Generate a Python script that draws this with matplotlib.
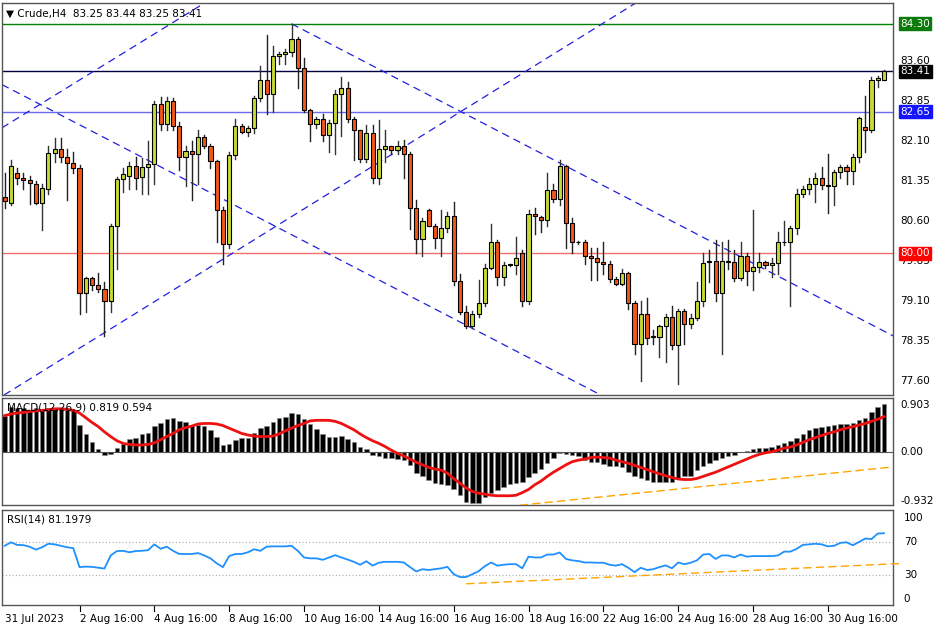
import matplotlib
matplotlib.use("Agg")
import matplotlib.pyplot as plt
import matplotlib.transforms as mtrans
import numpy as np

opens = [81.05,80.94,81.5,81.41,81.38,81.3,80.94,81.2,81.88,81.95,81.8,81.69,81.6,79.26,79.53,79.4,79.33,79.1,80.5,81.39,
 81.45,81.64,81.42,81.62,81.67,82.79,82.43,82.86,82.38,81.81,81.92,81.86,82.17,82.0,81.72,80.8,80.17,81.84,82.38,82.28,
 82.34,82.9,83.25,82.99,83.69,83.73,83.77,84.01,83.47,82.68,82.42,82.52,82.22,82.44,82.98,83.1,82.51,82.3,81.76,82.26,
 81.4,81.95,82.0,81.94,82.0,81.86,80.84,80.26,80.8,80.5,80.28,80.48,80.7,79.47,78.9,78.63,78.85,79.07,79.73,80.2,
 79.56,79.78,79.78,80.0,79.1,80.74,80.68,80.62,81.19,81.02,81.63,80.57,80.2,80.2,79.94,79.9,79.84,79.8,79.52,79.43,
 79.62,79.07,78.3,78.85,78.44,78.42,78.63,78.8,78.28,78.91,78.68,78.79,79.1,79.85,79.85,79.26,79.85,79.83,79.54,79.95,
 79.66,79.74,79.83,79.78,79.82,80.2,80.2,80.47,81.1,81.2,81.3,81.4,81.28,81.25,81.53,81.62,81.54,81.8,82.36,82.3,
 83.25,83.25]
highs = [81.5,81.74,81.6,81.5,81.45,81.35,81.3,82.0,82.15,82.15,81.95,81.9,81.65,79.55,79.55,79.62,79.45,80.55,81.42,81.6,
 81.7,81.8,81.78,82.1,82.85,82.92,82.92,82.9,82.45,82.0,82.1,82.3,82.22,82.05,81.75,80.87,81.9,82.52,82.42,82.38,
 82.95,83.5,84.09,83.88,83.78,83.82,84.3,84.05,83.65,82.7,82.55,82.6,82.5,83.05,83.3,83.2,82.55,82.3,82.4,82.4,
 82.5,82.3,82.0,82.1,82.12,81.9,81.0,80.65,80.83,80.55,80.8,80.78,80.95,79.6,79.0,78.92,79.5,79.8,80.55,80.25,
 79.83,79.8,80.3,80.05,80.8,80.85,80.7,81.5,81.3,81.75,81.65,80.65,80.22,80.25,80.1,80.1,80.2,79.85,79.55,79.7,
 79.65,79.1,79.1,79.15,78.55,78.65,78.85,79.0,78.95,78.95,78.85,79.45,80.0,80.05,80.25,80.2,80.25,80.05,80.2,80.0,
 80.8,80.0,79.85,79.9,80.4,80.6,80.5,81.2,81.25,81.4,81.5,81.62,81.85,81.55,81.65,81.65,81.85,82.55,82.95,83.3,
 83.32,83.44]
lows = [80.85,80.9,81.3,81.2,80.93,80.93,80.44,81.1,81.7,81.7,81.0,81.5,78.86,78.9,79.3,79.28,78.44,78.9,79.7,81.15,
 81.2,81.2,81.1,81.1,81.3,82.3,82.3,82.3,81.55,81.25,81.0,81.3,81.97,81.6,80.2,79.8,80.1,81.77,82.25,82.2,
 82.25,82.85,82.6,82.65,83.55,83.55,83.7,83.1,82.65,82.1,82.35,82.1,81.9,81.85,82.2,82.45,81.75,81.7,81.7,81.32,
 81.3,81.7,81.85,81.85,81.4,80.45,80.0,79.95,80.5,80.1,79.95,80.4,79.4,78.85,78.6,78.6,78.8,79.0,79.7,79.4,
 79.4,79.76,79.6,79.0,79.05,80.35,80.4,80.5,80.95,80.9,80.1,80.0,80.18,79.8,79.5,79.5,79.6,79.45,79.4,79.4,
 78.95,78.1,77.6,78.3,78.3,78.05,77.95,78.2,77.55,78.3,78.6,78.75,79.0,79.45,79.1,78.1,79.7,79.48,79.5,79.4,
 79.3,79.65,79.72,79.55,79.6,80.15,79.0,80.35,81.05,81.1,80.95,81.2,80.75,80.9,81.4,81.3,81.3,81.7,81.9,82.28,
 83.12,83.25]
closes = [80.97,81.64,81.41,81.38,81.31,80.94,81.22,81.88,81.95,81.8,81.69,81.6,79.26,79.53,79.4,79.33,79.1,80.5,81.39,81.49,
 81.64,81.41,81.62,81.67,82.79,82.43,82.86,82.38,81.81,81.92,81.86,82.17,82.0,81.72,80.8,80.17,81.84,82.38,82.28,82.34,
 82.9,83.25,82.99,83.69,83.73,83.77,84.01,83.47,82.68,82.42,82.52,82.22,82.44,82.98,83.1,82.51,82.3,81.76,82.26,81.4,
 81.95,82.0,81.94,82.0,81.86,80.84,80.26,80.6,80.5,80.28,80.48,80.7,79.47,78.9,78.63,78.85,79.07,79.73,80.2,79.56,
 79.78,79.78,79.9,79.1,80.74,80.7,80.62,81.19,81.02,81.63,80.57,80.2,80.2,79.94,79.9,79.84,79.8,79.52,79.43,79.62,
 79.07,78.3,78.85,78.4,78.42,78.63,78.8,78.28,78.91,78.68,78.79,79.1,79.82,79.83,79.26,79.85,79.83,79.54,79.95,79.66,
 79.74,79.83,79.78,79.82,80.2,80.2,80.47,81.1,81.2,81.3,81.4,81.28,81.25,81.53,81.62,81.54,81.8,82.54,82.3,83.25,
 83.29,83.41]

macd_hist = [0.70,0.87,0.85,0.84,0.81,0.84,0.83,0.84,0.85,0.84,0.83,0.81,0.52,0.34,0.19,0.06,-0.06,-0.04,0.08,0.15,
 0.25,0.28,0.34,0.36,0.50,0.55,0.64,0.65,0.60,0.57,0.52,0.52,0.51,0.43,0.30,0.14,0.15,0.24,0.27,0.28,
 0.36,0.46,0.50,0.57,0.65,0.68,0.75,0.73,0.63,0.54,0.45,0.35,0.29,0.29,0.31,0.25,0.19,0.11,0.06,-0.05,
 -0.08,-0.10,-0.11,-0.13,-0.15,-0.25,-0.40,-0.46,-0.53,-0.59,-0.61,-0.62,-0.70,-0.82,-0.95,-0.97,-0.97,-0.85,-0.78,-0.72,
 -0.66,-0.61,-0.59,-0.57,-0.48,-0.40,-0.31,-0.21,-0.11,-0.02,-0.03,-0.06,-0.08,-0.15,-0.18,-0.19,-0.23,-0.26,-0.26,-0.29,
 -0.38,-0.45,-0.50,-0.53,-0.56,-0.57,-0.57,-0.57,-0.50,-0.46,-0.45,-0.34,-0.27,-0.21,-0.15,-0.11,-0.08,-0.05,0.0,0.03,
 0.06,0.08,0.09,0.10,0.14,0.17,0.22,0.28,0.34,0.43,0.47,0.49,0.50,0.52,0.54,0.54,0.55,0.62,0.66,0.76,
 0.86,0.92]
macd_signal = [0.70,0.73,0.75,0.76,0.78,0.79,0.80,0.81,0.83,0.83,0.82,0.80,0.75,0.66,0.57,0.49,0.39,0.30,0.22,0.17,
 0.15,0.14,0.14,0.15,0.18,0.24,0.30,0.36,0.43,0.47,0.50,0.54,0.55,0.55,0.54,0.51,0.46,0.41,0.36,0.33,
 0.31,0.30,0.30,0.31,0.35,0.41,0.46,0.51,0.55,0.60,0.61,0.61,0.61,0.59,0.55,0.49,0.43,0.35,0.28,0.22,
 0.17,0.11,0.04,-0.02,-0.07,-0.13,-0.19,-0.24,-0.29,-0.32,-0.34,-0.40,-0.50,-0.59,-0.68,-0.75,-0.78,-0.80,-0.82,-0.83,
 -0.83,-0.83,-0.82,-0.77,-0.71,-0.62,-0.55,-0.46,-0.38,-0.31,-0.24,-0.18,-0.15,-0.13,-0.10,-0.09,-0.10,-0.11,-0.15,-0.18,
 -0.21,-0.25,-0.29,-0.33,-0.37,-0.41,-0.45,-0.48,-0.51,-0.52,-0.52,-0.50,-0.46,-0.42,-0.38,-0.33,-0.28,-0.23,-0.18,-0.13,
 -0.08,-0.04,-0.01,0.01,0.04,0.08,0.10,0.14,0.19,0.24,0.28,0.32,0.36,0.39,0.43,0.46,0.49,0.52,0.55,0.59,
 0.63,0.68]
rsi = [65.7,70.0,66.8,66.5,64.6,61.0,63.9,68.2,67.5,65.7,63.9,62.8,39.4,40.0,39.7,38.6,37.6,53.8,59.2,59.5,
 57.7,59.2,59.5,60.3,67.5,62.0,64.6,59.5,55.6,55.6,55.6,56.7,53.8,50.2,44.0,39.4,53.0,55.6,55.6,57.7,
 61.4,59.5,64.6,65.0,65.0,65.0,65.7,59.5,51.3,50.2,50.2,48.4,51.3,54.1,51.3,48.7,45.9,42.3,46.6,41.2,
 44.8,45.9,45.9,45.9,45.1,39.4,34.0,36.8,35.8,36.8,37.9,39.7,30.7,27.1,27.1,30.7,34.3,40.5,45.1,41.2,
 42.3,43.0,43.0,37.9,52.3,51.3,51.3,54.9,54.9,57.4,49.5,47.7,46.9,45.1,45.1,44.8,44.8,42.3,41.2,43.0,
 38.6,33.2,38.6,35.8,36.8,39.4,41.5,37.9,45.1,43.0,44.8,47.7,54.9,55.6,49.5,53.8,53.8,51.3,54.9,52.3,
 53.0,53.0,53.0,53.0,53.8,58.5,58.5,62.0,66.8,67.5,68.2,67.5,65.0,65.7,69.3,70.0,66.4,70.4,74.7,74.0,
 80.8,81.2]

date_idx = [12,24,36,48,60,72,84,96,108,120,132]
date_lbl = ["2 Aug 16:00","4 Aug 16:00","8 Aug 16:00","10 Aug 16:00","14 Aug 16:00","16 Aug 16:00",
            "18 Aug 16:00","22 Aug 16:00","24 Aug 16:00","28 Aug 16:00","30 Aug 16:00"]

hlines = [84.30, 83.41, 82.65, 80.00]
hline_colors = ["#008000", "#000040", "#6a6af0", "#f07070"]
hline_box = ["#0a7a0a", "#000000", "#1414ff", "#ff0000"]
price_ticks = [77.60,78.35,79.10,79.85,80.60,81.35,82.10,82.85,83.60]
channels = [((-0.43,82.35),(32.05,84.69)), ((-0.1,77.34),(101.2,84.69)),
            ((-0.43,83.16),(95.6,77.34)), ((46.0,84.30),(143.1,78.41))]
macd_trend = ((78.6,-1.06),(142.4,-0.28))
rsi_trend = ((74.0,18.8),(144.0,44.0))

plt.rcParams['font.family'] = ['DejaVu Sans']
fig = plt.figure(figsize=(9.36,6.24), dpi=100)
L, W = 2/936, 891/936
ax = fig.add_axes([L, 1-395/624, W, 392/624])
axm = fig.add_axes([L, 1-505/624, W, 107/624])
axr = fig.add_axes([L, 1-605/624, W, 95/624])
n = len(closes)
x = np.arange(n)
xl = (-0.43, 142.45)
for a in (ax, axm, axr):
    a.set_xlim(*xl)
    a.set_xticks([]); a.set_yticks([])
    for s in a.spines.values():
        s.set_color("#555555"); s.set_linewidth(1)

ax.set_ylim(77.34, 84.69)
for lv, c in zip(hlines, hline_colors):
    ax.axhline(lv, color=c, lw=1, zorder=1)
for (x0,y0),(x1,y1) in channels:
    ax.plot([x0,x1],[y0,y1], color="#2020e0", lw=0.9, ls=(0,(6,4)), zorder=2)
for i in range(n):
    o,h,l,c = opens[i],highs[i],lows[i],closes[i]
    bull = c >= o
    ax.plot([i,i],[l,h], color="#333333" if bull else "#222222", lw=1, zorder=3)
    bot, ht = min(o,c), max(abs(c-o), 0.012)
    ax.add_patch(plt.Rectangle((i-0.33, bot), 0.66, ht, facecolor="#c6d935" if bull else "#f4561a",
                               edgecolor="black", lw=0.8, zorder=4))
tr = mtrans.blended_transform_factory(ax.transAxes, ax.transData)
for t in price_ticks:
    ax.text(1.008, t, f"{t:.2f}", transform=tr, fontsize=7.5, va="center", ha="left")
for lv, bc in zip(hlines, hline_box):
    ax.text(1.008, lv, f"{lv:.2f}", transform=tr, fontsize=7.5, va="center", ha="left", color="white",
            bbox=dict(boxstyle="square,pad=0.15", fc=bc, ec=bc), zorder=10)
ax.text(0.004, 0.985, "▼ Crude,H4  83.25 83.44 83.25 83.41", transform=ax.transAxes, fontsize=7.5, va="top")

axm.set_ylim(-1.006, 1.036)
axm.bar(x, macd_hist, width=0.72, color="black", edgecolor="#888888", lw=0.4, zorder=2)
axm.axhline(0, color="#555555", lw=0.8)
axm.plot(x, macd_signal, color="#ee1111", lw=2, zorder=3)
axm.plot([macd_trend[0][0], macd_trend[1][0]], [macd_trend[0][1], macd_trend[1][1]],
         color="orange", lw=1, ls=(0,(6,3)), zorder=4)
trm = mtrans.blended_transform_factory(axm.transAxes, axm.transData)
axm.text(1.008, 0.903, "0.903", transform=trm, fontsize=7.5, va="center")
axm.text(1.008, -0.932, "-0.932", transform=trm, fontsize=7.5, va="center")
axm.text(1.008, 0.0, "0.00", transform=trm, fontsize=7.5, va="center",
         bbox=dict(boxstyle="square,pad=0.1", fc="white", ec="none"))
axm.text(0.006, 0.96, "MACD(12,26,9) 0.819 0.594", transform=axm.transAxes, fontsize=7.5, va="top")

axr.set_ylim(-7.4, 109.9)
for lv in (70, 30):
    axr.axhline(lv, color="#aaaaaa", lw=0.8, ls=(0,(1,2)))
axr.plot(x, rsi, color="#1e90ff", lw=1.3, zorder=3)
axr.plot([rsi_trend[0][0], rsi_trend[1][0]], [rsi_trend[0][1], rsi_trend[1][1]],
         color="orange", lw=1, ls=(0,(6,3)), zorder=4, clip_on=False)
trr = mtrans.blended_transform_factory(axr.transAxes, axr.transData)
for t in (100, 70, 30, 0):
    axr.text(1.012, t, str(t), transform=trr, fontsize=7.5, va="center")
axr.text(0.006, 0.95, "RSI(14) 81.1979", transform=axr.transAxes, fontsize=7.5, va="top")

trd = mtrans.blended_transform_factory(axr.transData, axr.transAxes)
axr.text(0.0, -0.1, "31 Jul 2023", transform=trd, fontsize=7.5, va="top", ha="left")
for i, lb in zip(date_idx, date_lbl):
    axr.plot([i,i],[-0.0,-0.06], transform=trd, color="black", lw=0.8, clip_on=False)
    axr.text(i, -0.1, lb, transform=trd, fontsize=7.5, va="top", ha="left")

fig.savefig("out.png", dpi=100, facecolor="white")
